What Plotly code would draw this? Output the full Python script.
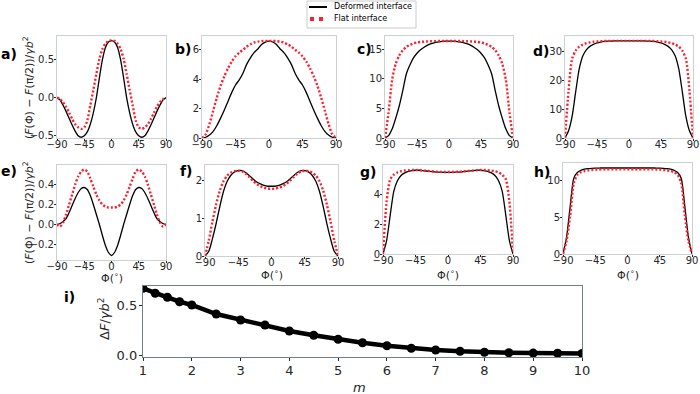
import plotly.graph_objects as go

W, H = 700, 394
BLACK = '#000000'
RED = '#ff1f2d'
FRAME = '#c9d1d1'
FRAME_I = '#6e8080'
TICK = '#262626'
FONT = 'DejaVu Sans'

# angle grid (degrees)
PHI = [-90, -85, -80, -75, -70, -65, -60, -55, -50, -45, -40, -35, -30, -25, -20, -15, -10, -5, 0,
       5, 10, 15, 20, 25, 30, 35, 40, 45, 50, 55, 60, 65, 70, 75, 80, 85, 90]

A_DEF = [0, -0.03, -0.1, -0.18, -0.27, -0.36, -0.44, -0.5, -0.52, -0.5, -0.45, -0.35, -0.2, 0.0, 0.26, 0.5, 0.66, 0.73, 0.75,
         0.73, 0.66, 0.5, 0.26, 0.0, -0.2, -0.35, -0.45, -0.5, -0.52, -0.5, -0.44, -0.36, -0.27, -0.18, -0.1, -0.03, 0]
A_FLAT = [0, -0.02, -0.06, -0.12, -0.2, -0.28, -0.35, -0.39, -0.41, -0.39, -0.3, -0.1, 0.1, 0.31, 0.51, 0.64, 0.71, 0.745, 0.75,
          0.745, 0.71, 0.64, 0.51, 0.31, 0.1, -0.1, -0.3, -0.39, -0.41, -0.39, -0.35, -0.28, -0.2, -0.12, -0.06, -0.02, 0]

B_DEF = [0, 0.05, 0.2, 0.45, 0.85, 1.35, 1.9, 2.5, 3.1, 3.6, 3.95, 4.4, 5.0, 5.45, 5.8, 6.05, 6.35, 6.52, 6.58,
         6.52, 6.35, 6.05, 5.8, 5.45, 5.0, 4.4, 3.95, 3.6, 3.1, 2.5, 1.9, 1.35, 0.85, 0.45, 0.2, 0.05, 0]
B_FLAT = [0, 0.25, 0.95, 1.85, 2.75, 3.55, 4.2, 4.75, 5.2, 5.55, 5.8, 6.0, 6.2, 6.37, 6.48, 6.55, 6.58, 6.6, 6.6,
          6.6, 6.58, 6.55, 6.48, 6.37, 6.2, 6.0, 5.8, 5.55, 5.2, 4.75, 4.2, 3.55, 2.75, 1.85, 0.95, 0.25, 0]

C_DEF = [0, 0.4, 1.5, 3.3, 5.4, 8.0, 10.8, 12.3, 13.5, 14.3, 14.9, 15.3, 15.65, 15.9, 16.1, 16.2, 16.3, 16.35, 16.35,
         16.35, 16.3, 16.2, 16.1, 15.9, 15.65, 15.3, 14.9, 14.3, 13.5, 12.3, 10.8, 8.0, 5.4, 3.3, 1.5, 0.4, 0]
C_FLAT = [0, 4.3, 9.8, 12.5, 13.9, 14.8, 15.35, 15.7, 15.95, 16.1, 16.2, 16.25, 16.3, 16.32, 16.34, 16.35, 16.35, 16.35, 16.35,
          16.35, 16.35, 16.35, 16.34, 16.32, 16.3, 16.25, 16.2, 16.1, 15.95, 15.7, 15.35, 14.8, 13.9, 12.5, 9.8, 4.3, 0]

D_DEF = [0, 2.5, 7.5, 16.0, 24.0, 28.5, 30.6, 31.8, 32.5, 33.0, 33.3, 33.5, 33.6, 33.65, 33.7, 33.7, 33.7, 33.7, 33.7,
         33.7, 33.7, 33.7, 33.7, 33.65, 33.6, 33.5, 33.3, 33.0, 32.5, 31.8, 30.6, 28.5, 24.0, 16.0, 7.5, 2.5, 0]
D_FLAT = [0, 16.5, 27.5, 30.3, 31.7, 32.4, 32.9, 33.2, 33.4, 33.5, 33.6, 33.65, 33.7, 33.7, 33.7, 33.7, 33.7, 33.7, 33.7,
          33.7, 33.7, 33.7, 33.7, 33.7, 33.7, 33.65, 33.6, 33.5, 33.4, 33.2, 32.9, 32.4, 31.7, 30.3, 27.5, 16.5, 0]

E_DEF = [0, 0.01, 0.03, 0.06, 0.12, 0.19, 0.26, 0.32, 0.36, 0.37, 0.35, 0.29, 0.2, 0.1, 0.0, -0.11, -0.21, -0.28, -0.31,
         -0.28, -0.21, -0.11, 0.0, 0.1, 0.2, 0.29, 0.35, 0.37, 0.36, 0.32, 0.26, 0.19, 0.12, 0.06, 0.03, 0.01, 0]
E_FLAT = [0, -0.02, 0.02, 0.1, 0.2, 0.3, 0.4, 0.48, 0.53, 0.55, 0.53, 0.46, 0.38, 0.3, 0.24, 0.2, 0.18, 0.17, 0.17,
          0.17, 0.18, 0.2, 0.24, 0.3, 0.38, 0.46, 0.53, 0.55, 0.53, 0.48, 0.4, 0.3, 0.2, 0.1, 0.02, -0.02, 0]

F_DEF = [0, 0.12, 0.45, 0.85, 1.3, 1.7, 1.97, 2.13, 2.22, 2.25, 2.25, 2.2, 2.12, 2.03, 1.95, 1.9, 1.86, 1.84, 1.84,
         1.84, 1.86, 1.9, 1.95, 2.03, 2.12, 2.2, 2.25, 2.25, 2.22, 2.13, 1.97, 1.7, 1.3, 0.85, 0.45, 0.12, 0]
F_FLAT = [0, 0.4, 0.9, 1.35, 1.72, 1.97, 2.12, 2.2, 2.24, 2.25, 2.23, 2.17, 2.08, 1.98, 1.9, 1.84, 1.8, 1.78, 1.77,
          1.78, 1.8, 1.84, 1.9, 1.98, 2.08, 2.17, 2.23, 2.25, 2.24, 2.2, 2.12, 1.97, 1.72, 1.35, 0.9, 0.4, 0]

G_DEF = [0, 0.9, 2.6, 4.2, 4.9, 5.25, 5.42, 5.52, 5.57, 5.6, 5.6, 5.58, 5.55, 5.52, 5.5, 5.48, 5.47, 5.46, 5.46,
         5.46, 5.47, 5.48, 5.5, 5.52, 5.55, 5.58, 5.6, 5.6, 5.57, 5.52, 5.42, 5.25, 4.9, 4.2, 2.6, 0.9, 0]
G_FLAT = [0, 3.5, 5.0, 5.3, 5.45, 5.53, 5.58, 5.6, 5.62, 5.62, 5.6, 5.58, 5.56, 5.54, 5.52, 5.5, 5.49, 5.48, 5.48,
          5.48, 5.49, 5.5, 5.52, 5.54, 5.56, 5.58, 5.6, 5.62, 5.62, 5.6, 5.58, 5.53, 5.45, 5.3, 5.0, 3.5, 0]

H_DEF = [0, 2.3, 6.5, 10.3, 11.1, 11.4, 11.55, 11.62, 11.67, 11.7, 11.71, 11.72, 11.72, 11.72, 11.72, 11.72, 11.72, 11.72, 11.72,
         11.72, 11.72, 11.72, 11.72, 11.72, 11.72, 11.72, 11.71, 11.7, 11.67, 11.62, 11.55, 11.4, 11.1, 10.3, 6.5, 2.3, 0]
H_FLAT = [0, 1.8, 5.2, 9.6, 10.8, 11.15, 11.3, 11.4, 11.45, 11.5, 11.52, 11.54, 11.55, 11.55, 11.55, 11.55, 11.55, 11.55, 11.55,
          11.55, 11.55, 11.55, 11.55, 11.55, 11.55, 11.54, 11.52, 11.5, 11.45, 11.4, 11.3, 11.15, 10.8, 9.6, 5.2, 1.8, 0]

# panel i
M_VALUES = [1, 1.25, 1.5, 1.75, 2, 2.5, 3, 3.5, 4, 4.5, 5, 5.5, 6, 6.5, 7, 7.5, 8, 8.5, 9, 9.5, 10]
DELTA_F = [0.667, 0.617, 0.577, 0.533, 0.50, 0.41, 0.35, 0.30, 0.24, 0.197, 0.157, 0.123, 0.093, 0.067,
           0.05, 0.037, 0.027, 0.022, 0.019, 0.017, 0.016]

SERIES_NAMES = ['Deformed interface', 'Flat interface']

# label, curves, pixel box (left, right, top, bottom), y range, y ticks, tick format, label pos
PANELS = [
    ('a)', A_DEF, A_FLAT, (57, 166, 36, 138), [-0.53, 0.81], [-0.5, 0.0, 0.5], '.1f', (9, 54)),
    ('b)', B_DEF, B_FLAT, (202, 336, 36, 138), [0, 6.93], [0, 2, 4, 6], 'd', (183, 49)),
    ('c)', C_DEF, C_FLAT, (385, 513, 36, 138), [0, 17.2], [0, 5, 10, 15], 'd', (364, 49)),
    ('d)', D_DEF, D_FLAT, (565, 693, 36, 138), [0, 35.4], [0, 10, 20, 30], 'd', (541, 51)),
    ('e)', E_DEF, E_FLAT, (57, 166, 165, 260), [-0.355, 0.595], [-0.2, 0.0, 0.2, 0.4], '.1f', (9, 171)),
    ('f)', F_DEF, F_FLAT, (205, 338, 165, 256), [0, 2.4], [0, 1, 2], 'd', (186, 171)),
    ('g)', G_DEF, G_FLAT, (383, 513, 165, 254), [0, 5.95], [0, 2, 4], 'd', (368, 172)),
    ('h)', H_DEF, H_FLAT, (563, 692, 163, 254), [0, 12.4], [0, 5, 10], 'd', (542, 172)),
]
PHI_TITLE_Y = [277, 274, 274, 274]


def xd(l, r):
    return [l / W, r / W]


def yd(t, b):
    return [1 - b / H, 1 - t / H]


def pp(x, y, xa='center'):
    return dict(x=x / W, y=1 - y / H, xref='paper', yref='paper',
                xanchor=xa, yanchor='middle', showarrow=False)


fig = go.Figure()
layout = {}
annotations = []
shapes = []

for i, (lab, ydef, yflat, box, yr, yt, fmt, lpos) in enumerate(PANELS):
    n = i + 1
    sx = '' if n == 1 else str(n)
    l, r, t, b = box
    fig.add_trace(go.Scatter(
        x=PHI, y=ydef, mode='lines', name=SERIES_NAMES[0], showlegend=False,
        line=dict(color=BLACK, width=1.3, shape='spline', smoothing=0.7),
        xaxis='x' + sx, yaxis='y' + sx))
    fig.add_trace(go.Scatter(
        x=PHI, y=yflat, mode='lines', name=SERIES_NAMES[1], showlegend=False,
        line=dict(color=RED, width=2.4, dash='2px,2px', shape='spline', smoothing=0.7),
        xaxis='x' + sx, yaxis='y' + sx))
    layout['xaxis' + sx] = dict(
        domain=xd(l, r), anchor='y' + sx, range=[-90, 90], automargin=False,
        tickvals=[-90, -45, 0, 45, 90], showgrid=False, zeroline=False,
        showline=True, mirror=True, linecolor=FRAME, linewidth=1,
        ticks='outside', ticklen=2, tickcolor=TICK, ticklabelstandoff=-5,
        tickfont=dict(family=FONT, size=10, color=TICK))
    layout['yaxis' + sx] = dict(
        domain=yd(t, b), anchor='x' + sx, range=yr, tickvals=yt, automargin=False,
        tickformat=fmt, showgrid=False, zeroline=False,
        showline=True, mirror=True, linecolor=FRAME, linewidth=1,
        ticks='outside', ticklen=2, tickcolor=TICK, ticklabelstandoff=-2,
        tickfont=dict(family=FONT, size=10, color=TICK))
    annotations.append(dict(
        **pp(*lpos), text='<b>' + lab + '</b>',
        font=dict(family=FONT, size=14, color=BLACK)))
    if n >= 5:
        annotations.append(dict(
            **pp((l + r) / 2, PHI_TITLE_Y[n - 5]),
            text='Φ(<sup>∘</sup>)', font=dict(family=FONT, size=11, color=TICK)))

# panel i
fig.add_trace(go.Scatter(
    x=M_VALUES, y=DELTA_F, mode='lines+markers', showlegend=False,
    line=dict(color=BLACK, width=4.5),
    marker=dict(color=BLACK, size=9),
    xaxis='x9', yaxis='y9'))
layout['xaxis9'] = dict(
    domain=xd(143, 582), anchor='y9', range=[1, 10], dtick=1, automargin=False,
    showgrid=False, zeroline=False, showline=True, mirror=True,
    linecolor=FRAME_I, linewidth=1.3, ticks='outside', ticklen=3, tickcolor=TICK,
    ticklabelstandoff=-2, tickfont=dict(family=FONT, size=13, color=TICK))
layout['yaxis9'] = dict(
    domain=yd(286, 357), anchor='x9', range=[-0.02, 0.69], tickvals=[0, 0.5], automargin=False,
    tickformat='.1f', showgrid=False, zeroline=False, showline=True, mirror=True,
    linecolor=FRAME_I, linewidth=1.3, ticks='outside', ticklen=3, tickcolor=TICK,
    ticklabelstandoff=-1, tickfont=dict(family=FONT, size=13, color=TICK))

YLABEL = '(<i>F</i>(Φ) − <i>F</i>(π/2))/<i>γb</i><sup>2</sup>'
annotations += [
    dict(**pp(69, 297), text='<b>i)</b>', font=dict(family=FONT, size=14, color=BLACK)),
    dict(**pp(104, 319), text='Δ<i>F</i>/<i>γb</i><sup>2</sup>', textangle=-90,
         font=dict(family=FONT, size=13, color=TICK)),
    dict(**pp(360, 387), text='<i>m</i>', font=dict(family=FONT, size=13, color=TICK)),
    dict(**pp(28, 88), text=YLABEL, textangle=-90, font=dict(family=FONT, size=11, color=TICK)),
    dict(**pp(28, 213), text=YLABEL, textangle=-90, font=dict(family=FONT, size=11, color=TICK)),
]

# legend box (drawn like the matplotlib legend)
shapes += [
    dict(type='rect', xref='paper', yref='paper', x0=307 / W, x1=416 / W,
         y0=1 - 28 / H, y1=1 - 1 / H, line=dict(color='#cccccc', width=1),
         fillcolor='white', layer='above'),
    dict(type='line', xref='paper', yref='paper', x0=309 / W, x1=327 / W,
         y0=1 - 7 / H, y1=1 - 7 / H, line=dict(color=BLACK, width=2), layer='above'),
    dict(type='rect', xref='paper', yref='paper', x0=310 / W, x1=314 / W,
         y0=1 - 21 / H, y1=1 - 17 / H, line=dict(width=0), fillcolor=RED, layer='above'),
    dict(type='rect', xref='paper', yref='paper', x0=319 / W, x1=323 / W,
         y0=1 - 21 / H, y1=1 - 17 / H, line=dict(width=0), fillcolor=RED, layer='above'),
]
annotations += [
    dict(**pp(332, 7, 'left'), text=SERIES_NAMES[0], font=dict(family=FONT, size=8, color=BLACK)),
    dict(**pp(332, 19, 'left'), text=SERIES_NAMES[1], font=dict(family=FONT, size=8, color=BLACK)),
]

fig.update_layout(
    **layout,
    width=W, height=H,
    margin=dict(l=0, r=0, t=0, b=0, autoexpand=False),
    paper_bgcolor='white', plot_bgcolor='white',
    showlegend=False,
    annotations=annotations,
    shapes=shapes,
)

fig.write_html('out.html', config={'displayModeBar': False},
               post_script="document.body.style.margin='0px';")
